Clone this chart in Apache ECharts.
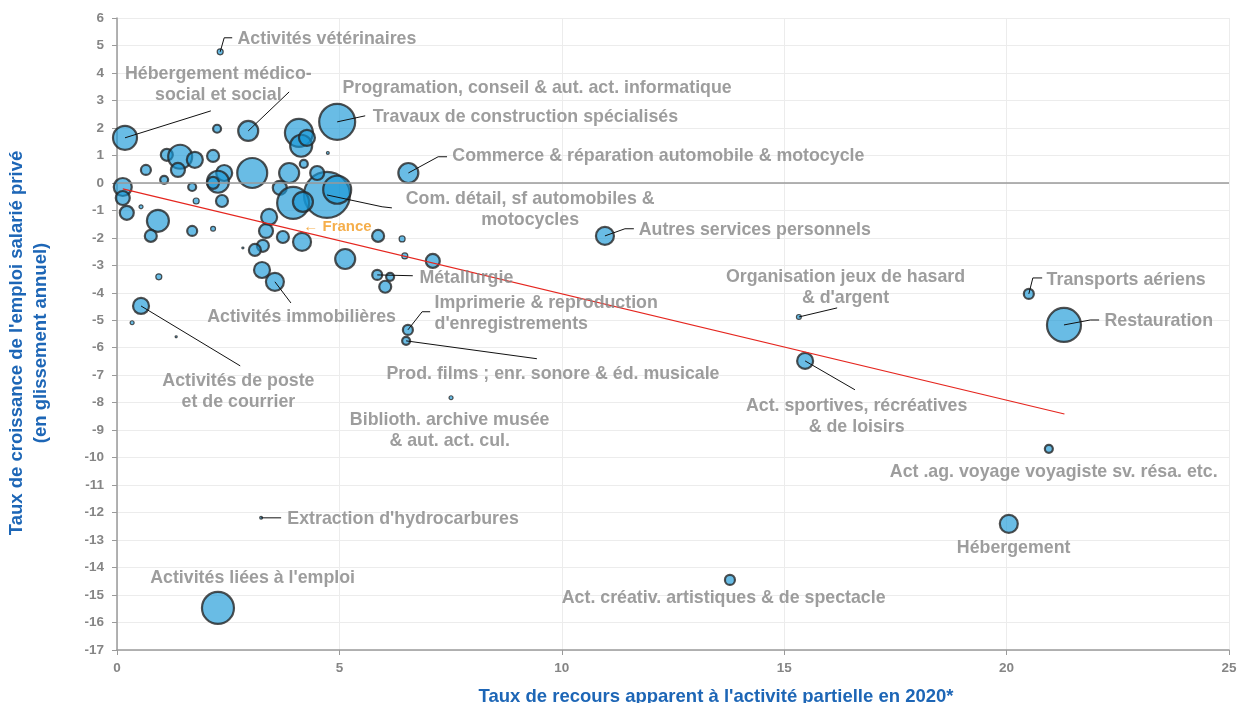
<!DOCTYPE html>
<html>
<head>
<meta charset="utf-8">
<script src="https://cdn.jsdelivr.net/npm/echarts/dist/echarts.min.js"></script>
<style>
  html, body { margin: 0; padding: 0; background: #fff; }
  #chart { width: 1242px; height: 703px; }
</style>
</head>
<body>
<div id="chart"></div>
<script>
// secteurs (clé vide = bulle sans étiquette)
const secteurs = [
  'veterinaires', 'medico', 'informatique', 'construction', 'commerce_auto', 'commerce_detail',
  'services_perso', 'metallurgie', 'imprimerie', 'films', 'bibliotheques', 'immobilier', 'poste',
  'hydrocarbures', 'emploi', 'creatives', 'jeux', 'aerien', 'restauration', 'sport', 'voyage', 'hebergement',
  '', '', '', '', '', '', '', '', '', '', '', '', '', '', '', '', '', '', '', '', '', '', '', '', '',
  '', '', '', '', '', '', '', '', '', '', '', '', '', '', '', '', '', '', '', '', '', '', '', '', '', ''
];
// taux de recours apparent à l'activité partielle (%)
const recours = [
  2.32, 0.18, 2.95, 4.95, 6.55, 4.72,
  10.97, 5.85, 6.54, 6.50, 7.51, 3.55, 0.54,
  3.24, 2.27, 13.78, 15.33, 20.50, 21.29, 15.47, 20.95, 20.05,
  2.25, 4.09, 4.14, 4.27, 4.74, 1.12, 1.42, 1.75, 1.37, 0.65, 1.06, 2.16, 2.41, 2.27, 2.16, 2.36, 1.69, 1.78, 3.04, 4.20, 3.87, 4.50, 3.66, 3.96, 4.18,
  4.95, 0.13, 0.13, 0.22, 0.54, 0.92, 0.76, 1.69, 2.16, 3.42, 3.35, 3.28, 3.10, 2.83, 3.73, 4.16, 3.26, 0.94, 0.34, 5.13, 5.87, 6.41, 6.47, 7.10, 6.14, 6.03, 1.33
];
// taux de croissance de l'emploi salarié privé (%)
const croissance = [
  4.77, 1.64, 1.89, 2.22, 0.36, -0.44,
  -1.93, -3.35, -5.35, -5.75, -7.82, -3.60, -4.48,
  -12.19, -15.47, -14.45, -4.88, -4.04, -5.17, -6.48, -9.68, -12.41,
  1.97, 1.82, 1.35, 1.64, 1.09, 1.02, 0.95, 0.84, 0.47, 0.47, 0.11, 0.98, 0.36, 0.04, 0.00, -0.66, -0.15, -0.66, 0.36, 0.69, 0.36, 0.36, -0.18, -0.73, -0.69,
  -0.25, -0.15, -0.55, -1.09, -0.87, -1.38, -1.93, -1.75, -1.67, -1.24, -1.75, -2.29, -2.44, -2.37, -1.97, -2.15, -3.17, -3.42, -5.09, -2.77, -1.93, -2.04, -2.66, -2.84, -3.42, -3.78, -5.60
];
// poids des secteurs (taille des bulles)
const effectifs = [
  9, 144, 100, 324, 100, 529,
  81, 25, 25, 16, 4, 81, 64,
  2, 256, 25, 6, 25, 289, 64, 16, 81,
  16, 196, 121, 64, 2, 36, 144, 64, 49, 25, 16, 36, 64, 121, 36, 36, 16, 9, 225, 16, 100, 49, 49, 256, 100,
  196, 81, 49, 49, 4, 121, 36, 25, 6, 64, 49, 36, 36, 1, 36, 81, 64, 9, 4, 100, 36, 9, 9, 49, 16, 36, 1
];
// droite de tendance
const tendanceX = [0.13, 21.3];
const tendanceY = [-0.22, -8.41];

// étiquettes et traits de rappel
const etiquettes = [
  { cle: 'veterinaires', texte: 'Activités vétérinaires', pos: [2.72, 5.28], align: 'left', coude: [[2.41, 5.28], [2.59, 5.28]] },
  { cle: 'medico', texte: 'Hébergement médico-\nsocial et social', pos: [2.29, 3.62], align: 'center', coude: [[2.11, 2.62]] },
  { cle: 'informatique', texte: 'Programation, conseil & aut. act. informatique', pos: [5.08, 3.49], align: 'left', coude: [[3.87, 3.31]] },
  { cle: 'construction', texte: 'Travaux de construction spécialisés', pos: [5.76, 2.44], align: 'left', coude: [[5.58, 2.44]] },
  { cle: 'commerce_auto', texte: 'Commerce & réparation automobile & motocycle', pos: [7.55, 1.02], align: 'left', coude: [[7.22, 0.95], [7.42, 0.95]] },
  { cle: 'commerce_detail', texte: 'Com. détail, sf automobiles &\nmotocycles', pos: [9.3, -0.93], align: 'center', coude: [[5.96, -0.87], [6.18, -0.91]] },
  { cle: 'services_perso', texte: 'Autres services personnels', pos: [11.74, -1.67], align: 'left', coude: [[11.42, -1.67], [11.62, -1.67]] },
  { cle: 'metallurgie', texte: 'Métallurgie', pos: [6.81, -3.42], align: 'left', coude: [[6.65, -3.38]] },
  { cle: 'imprimerie', texte: 'Imprimerie & reproduction\nd\'enregistrements', pos: [7.15, -4.71], align: 'left', coude: [[6.86, -4.69], [7.04, -4.69]] },
  { cle: 'films', texte: 'Prod. films ; enr. sonore & éd. musicale', pos: [6.07, -6.91], align: 'left', coude: [[9.44, -6.40]] },
  { cle: 'bibliotheques', texte: 'Biblioth. archive musée\n& aut. act. cul.', pos: [7.49, -8.95], align: 'center' },
  { cle: 'immobilier', texte: 'Activités immobilières', pos: [4.16, -4.84], align: 'center', coude: [[3.91, -4.37]] },
  { cle: 'poste', texte: 'Activités de poste\net de courrier', pos: [2.74, -7.55], align: 'center', coude: [[2.77, -6.66]] },
  { cle: 'hydrocarbures', texte: 'Extraction d\'hydrocarbures', pos: [3.84, -12.19], align: 'left', coude: [[3.69, -12.19]] },
  { cle: 'emploi', texte: 'Activités liées à l\'emploi', pos: [3.06, -14.34], align: 'center' },
  { cle: 'creatives', texte: 'Act. créativ. artistiques & de spectacle', pos: [13.65, -15.07], align: 'center' },
  { cle: 'jeux', texte: 'Organisation jeux de hasard\n& d\'argent', pos: [16.39, -3.77], align: 'center', coude: [[16.19, -4.55]] },
  { cle: 'aerien', texte: 'Transports aériens', pos: [20.91, -3.49], align: 'left', coude: [[20.59, -3.46], [20.80, -3.46]] },
  { cle: 'restauration', texte: 'Restauration', pos: [22.21, -4.99], align: 'left', coude: [[21.88, -4.99], [22.08, -4.99]] },
  { cle: 'sport', texte: 'Act. sportives, récréatives\n& de loisirs', pos: [16.64, -8.46], align: 'center', coude: [[16.59, -7.53]] },
  { cle: 'voyage', texte: 'Act .ag. voyage voyagiste sv. résa. etc.', pos: [21.07, -10.48], align: 'center' },
  { cle: 'hebergement', texte: 'Hébergement', pos: [20.17, -13.25], align: 'center' },
  { cle: '', texte: '← France', pos: [4.20, -1.56], align: 'left', couleur: '#f39a1e', taille: 15 }
];

const gris = '#858585';
const bleuTitre = '#1d66b6';

// bulles
const bulles = recours.map((x, i) => ({
  value: [x, croissance[i], effectifs[i]],
  name: secteurs[i],
  itemStyle: { borderWidth: effectifs[i] <= 9 ? 1.2 : 2.2 }
}));

// traits de rappel : de la bulle vers l'étiquette
const traits = etiquettes.filter(e => e.coude).map(e => {
  const i = secteurs.indexOf(e.cle);
  return { coords: [[recours[i], croissance[i]]].concat(e.coude) };
});

const textes = etiquettes.map(e => ({
  value: e.pos,
  texte: e.texte,
  label: {
    align: e.align,
    color: e.couleur || gris,
    fontSize: e.taille || 17.8
  }
}));

const chart = echarts.init(document.getElementById('chart'));
chart.setOption({
  animation: false,
  backgroundColor: '#fff',
  grid: { left: 117, right: 13, top: 18, bottom: 53 },
  xAxis: {
    type: 'value',
    min: 0,
    max: 25,
    interval: 5,
    axisLine: { show: true, onZero: false, lineStyle: { color: '#9a9a9a', width: 1.5 } },
    axisTick: { show: true, length: 5, lineStyle: { color: '#9a9a9a' } },
    axisLabel: { color: gris, fontWeight: 'bold', fontSize: 13.5, margin: 11, fontFamily: 'Liberation Sans, Arial' },
    splitLine: { show: true, lineStyle: { color: '#ececec' } }
  },
  yAxis: {
    type: 'value',
    min: -17,
    max: 6,
    interval: 1,
    axisLine: { show: true, onZero: false, lineStyle: { color: '#9a9a9a', width: 1.5 } },
    axisTick: { show: true, length: 5, lineStyle: { color: '#9a9a9a' } },
    axisLabel: { color: gris, fontWeight: 'bold', fontSize: 13.5, margin: 13, fontFamily: 'Liberation Sans, Arial' },
    splitLine: { show: true, lineStyle: { color: '#ececec' } }
  },
  graphic: [
    {
      type: 'text',
      x: 29, y: 343,
      rotation: Math.PI / 2,
      style: {
        text: 'Taux de croissance de l\'emploi salarié privé\n(en glissement annuel)',
        fill: bleuTitre,
        font: 'bold 18.5px "Liberation Sans", Arial',
        align: 'center',
        verticalAlign: 'middle',
        lineHeight: 24
      }
    },
    {
      type: 'text',
      x: 716, y: 697,
      style: {
        text: 'Taux de recours apparent à l\'activité partielle en 2020*',
        fill: bleuTitre,
        font: 'bold 18.5px "Liberation Sans", Arial',
        align: 'center',
        verticalAlign: 'middle'
      }
    }
  ],
  series: [
    {
      name: 'secteurs',
      type: 'scatter',
      data: bulles,
      symbolSize: v => 2 * Math.sqrt(v[2]),
      itemStyle: { color: 'rgba(20,150,215,0.8)', borderColor: '#262626' },
      z: 3,
      markLine: {
        silent: true,
        symbol: ['none', 'none'],
        label: { show: false },
        lineStyle: { color: '#9a9a9a', width: 1.5, type: 'solid' },
        data: [{ yAxis: 0 }]
      }
    },
    {
      name: 'tendance',
      type: 'line',
      data: tendanceX.map((x, i) => [x, tendanceY[i]]),
      showSymbol: false,
      lineStyle: { color: '#e5261f', width: 1.2 },
      z: 4
    },
    {
      name: 'rappels',
      type: 'lines',
      coordinateSystem: 'cartesian2d',
      polyline: true,
      data: traits,
      lineStyle: { color: '#111', width: 1, opacity: 1 },
      z: 5
    },
    {
      name: 'etiquettes',
      type: 'scatter',
      data: textes,
      symbolSize: 1,
      itemStyle: { color: 'transparent' },
      label: {
        show: true,
        position: [0, 0],
        offset: [0, 2],
        verticalAlign: 'middle',
        fontWeight: 'bold',
        fontFamily: 'Liberation Sans, Arial',
        lineHeight: 21,
        formatter: p => p.data.texte
      },
      z: 6
    }
  ]
});
</script>
</body>
</html>
